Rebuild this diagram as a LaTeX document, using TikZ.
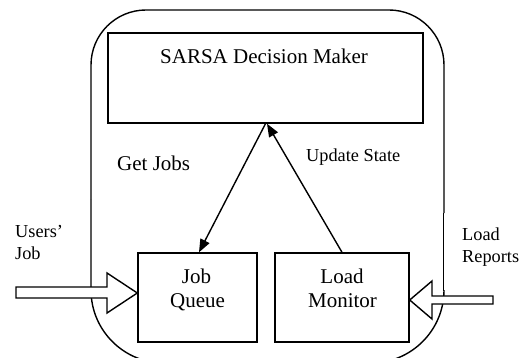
\documentclass[tikz,border=0pt]{standalone}
\usepackage{fontspec}
\setmainfont{Liberation Serif}
\usetikzlibrary{arrows.meta,calc}
\begin{document}
\begin{tikzpicture}[x=1pt,y=-1pt,
  boxst/.style={draw,line width=1.4pt,inner sep=0pt},
  bigtxt/.style={font=\fontsize{21}{24}\selectfont,anchor=base,inner sep=0pt},
  smalltxt/.style={font=\fontsize{18.3}{22}\selectfont,anchor=base,inner sep=0pt},
  conn/.style={line width=1.4pt,-{Triangle[length=13pt,width=10pt]}},
  outerst/.style={line width=1.4pt},
  blockarrow/.style={draw,fill=white,line width=1.4pt,line join=miter}]
\useasboundingbox (0,0) rectangle (519,358);
% outer rounded container
\draw[outerst,rounded corners=55pt] (91,200) -- (91,10) -- (444,10) -- (444,213);
\draw[line width=0.7pt] (443.5,213) -- (443.5,291);
\draw[outerst,rounded corners=73pt] (444,290) -- (444,363) -- (91,363) -- (91,200);
% boxes
\node[boxst,minimum width=315pt,minimum height=90pt] (sarsa) at (265.5,78) {};
\node[boxst,minimum width=119pt,minimum height=89pt] (jq) at (197.5,297.5) {};
\node[boxst,minimum width=134pt,minimum height=89pt] (lm) at (342,297.5) {};
% box texts
\node[bigtxt] (sarsatxt) at (264,64) {SARSA Decision Maker};
\node[bigtxt] (jqa) at (196.5,283) {Job};
\node[bigtxt] (jqb) at (197.5,307) {Queue};
\node[bigtxt] (lma) at (342,283) {Load};
\node[bigtxt] (lmb) at (342.5,307) {Monitor};
% connectors
\draw[conn] (sarsa.south) -- ([xshift=1.5pt]jq.north);
\draw[conn] (lm.north) -- ([xshift=1.5pt]sarsa.south);
% labels
\node[bigtxt,anchor=base west] (getjobs) at (117,171) {Get Jobs};
\node[smalltxt,anchor=base west] (upd) at (306,162) {Update State};
\node[smalltxt,anchor=base west] (usersa) at (15,237) {Users’};
\node[smalltxt,anchor=base west] (usersb) at (15,259) {Job};
\node[smalltxt,anchor=base west] (loada) at (462,240) {Load};
\node[smalltxt,anchor=base west] (loadb) at (462,262) {Reports};
% block arrows
\draw[blockarrow] (16,287) -- (107,287) -- (107,273) -- (jq.west |- 0,293) -- (107,313) -- (107,298) -- (16,298) -- cycle;
\draw[blockarrow] (493,296) -- (432,296) -- (432,281) -- (lm.east |- 0,300) -- (432,319) -- (432,304) -- (493,304) -- cycle;
\end{tikzpicture}
\end{document}
